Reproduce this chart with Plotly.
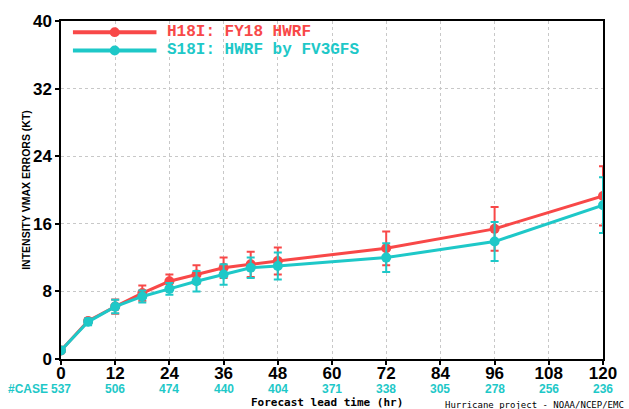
import plotly.graph_objects as go

# Forecast lead times (hr) and intensity (Vmax) errors in knots
lead_hr = [0, 6, 12, 18, 24, 30, 36, 42, 48, 72, 96, 120]
h18i_err = [1.0, 4.5, 6.2, 7.8, 9.2, 10.0, 10.8, 11.2, 11.6, 13.1, 15.4, 19.3]
h18i_ci = [0.0, 0.3, 0.85, 0.9, 0.8, 1.1, 1.2, 1.5, 1.6, 2.0, 2.6, 3.5]
s18i_err = [1.0, 4.4, 6.2, 7.4, 8.3, 9.2, 10.0, 10.8, 11.0, 12.0, 13.9, 18.2]
s18i_ci = [0.0, 0.4, 0.8, 0.7, 0.7, 1.2, 1.2, 1.2, 1.6, 1.7, 2.3, 3.3]

# Number of verifying cases at each labelled lead time
case_hr = [0, 12, 24, 36, 48, 60, 72, 84, 96, 108, 120]
case_n = [537, 506, 474, 440, 404, 371, 338, 305, 278, 256, 236]

series_names = ["H18I: FY18 HWRF", "S18I: HWRF by FV3GFS"]

RED = "#f84848"
CYAN = "#1ec8c8"
MONO = "DejaVu Sans Mono"
LEG = "Liberation Mono"
SANS = "Liberation Sans"

fig = go.Figure()
for name, y, ci, col in [(series_names[0], h18i_err, h18i_ci, RED),
                         (series_names[1], s18i_err, s18i_ci, CYAN)]:
    fig.add_trace(go.Scatter(
        x=lead_hr, y=y, name=name, mode="lines+markers",
        line=dict(color=col, width=3),
        marker=dict(color=col, size=10),
        error_y=dict(type="data", array=ci, visible=True,
                     color=col, thickness=2, width=4),
        showlegend=False,
    ))

# Legend drawn as line + dot samples with coloured labels
x0, x1, xm, xt = 73, 157, 115, 166
for i, (name, col) in enumerate(zip(series_names, [RED, CYAN])):
    yp = 26.4 + i * 18.6
    fig.add_shape(type="line", xref="paper", yref="paper",
                  x0=(x0 - 61) / 545, x1=(x1 - 61) / 545,
                  y0=1 - (yp - 15) / 344, y1=1 - (yp - 15) / 344,
                  line=dict(color=col, width=4))
    fig.add_shape(type="circle", xref="paper", yref="paper",
                  x0=(xm - 5 - 61) / 545, x1=(xm + 5 - 61) / 545,
                  y0=1 - (yp + 5 - 15) / 344, y1=1 - (yp - 5 - 15) / 344,
                  fillcolor=col, line=dict(color=col, width=0))
    fig.add_annotation(text=name, xref="paper", yref="paper",
                       x=(xt - 61) / 545, y=1 - (yp - 15) / 344,
                       xanchor="left", yanchor="middle", showarrow=False,
                       font=dict(family=LEG, size=16, color=col, weight="bold"))

# Case counts under the x-axis tick labels
for hr, n in zip(case_hr, case_n):
    fig.add_annotation(text=str(n), x=hr, xref="x", y=-0.089, yref="paper",
                       yanchor="middle", showarrow=False,
                       font=dict(family=SANS, size=12, color=CYAN, weight="bold"))
fig.add_annotation(text="#CASE", x=-0.101, xref="paper", y=-0.089, yref="paper",
                   xanchor="left", yanchor="middle", showarrow=False,
                   font=dict(family=SANS, size=12, color=CYAN, weight="bold"))

fig.add_annotation(text="Forecast lead time (hr)", x=0.49, xref="paper",
                   y=-0.13, yref="paper", yanchor="middle", showarrow=False,
                   font=dict(family=MONO, size=11, color="black", weight="bold"))
fig.add_annotation(text="Hurricane project - NOAA/NCEP/EMC", x=1.043, xref="paper",
                   y=-0.135, yref="paper", xanchor="right", yanchor="middle",
                   showarrow=False,
                   font=dict(family=MONO, size=9, color="black"))

axis_common = dict(
    showline=True, linecolor="black", linewidth=1.5, mirror=True,
    ticks="outside", ticklen=4, tickcolor="black", tickwidth=1.5,
    showgrid=True, gridcolor="#c8c8c8", griddash="dot", gridwidth=1,
    zeroline=False,
    tickfont=dict(family=SANS, size=17, color="black", weight="bold"),
)

fig.update_layout(
    width=629, height=409,
    margin=dict(l=61, r=23, t=15, b=50),
    paper_bgcolor="white", plot_bgcolor="white",
    xaxis=dict(range=[0, 120], tickvals=case_hr, ticklabelstandoff=-6,
               **axis_common),
    yaxis=dict(range=[0, 40], tickvals=[0, 8, 16, 24, 32, 40],
               title=dict(text="INTENSITY VMAX ERRORS (KT)", standoff=0,
                          font=dict(family=SANS, size=10.5, color="black",
                                    weight="bold")),
               **axis_common),
)

fig.write_html("out.html")
